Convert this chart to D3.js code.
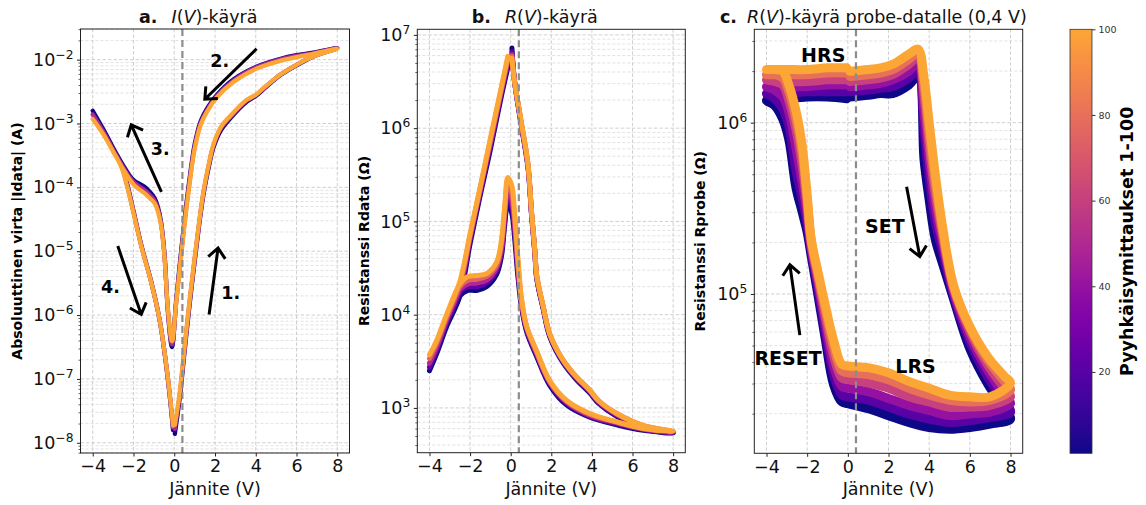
<!DOCTYPE html>
<html><head><meta charset="utf-8">
<script src="https://cdn.jsdelivr.net/npm/d3@7/dist/d3.min.js"></script>
<style>html,body{margin:0;padding:0;background:#fff;}svg{display:block;}</style>
</head><body>
<svg id="chart" width="1146" height="505" xmlns="http://www.w3.org/2000/svg"></svg>
<script>
// ================= DATA =================
const voltTicks = [-4, -2, 0, 2, 4, 6, 8];
const probeVoltage = 0.4;
const colorbarTicks = [20, 40, 60, 80, 100];

// ---- a. I(V): voltage path of a sweep (0->8, 8->0, 0->-4, -4->0) and log10 |I| per sweep
const aSweepIds = [1, 50, 100];
const aVolt = [0.03,0.27,0.51,0.76,1.09,1.42,1.75,1.9,2.3,2.72,3.55,4.0,4.36,5.18,6.0,6.82,8.0,
  6.82,6.0,5.18,4.04,2.9,2.07,1.6,1.3,1.0,0.75,0.5,0.3,0.1,-0.11,
  -0.31,-0.47,-0.64,-0.8,-0.96,-1.2,-1.46,-1.95,-2.2,-2.5,-3.0,-3.5,-4.0,
  -3.5,-3.0,-2.6,-2.3,-2.0,-1.62,-1.13,-0.72,-0.47,-0.23,-0.06];
const aLogI_1 = [-7.86,-7.3,-6.56,-5.82,-4.93,-4.14,-3.6,-3.4,-3.1,-2.93,-2.66,-2.57,-2.47,-2.25,-2.09,-1.95,-1.82,
  -1.89,-1.93,-1.99,-2.11,-2.31,-2.56,-2.77,-2.96,-3.33,-3.87,-4.52,-5.12,-5.75,-6.5,
  -5.95,-5.08,-4.56,-4.31,-4.17,-4.07,-3.99,-3.9,-3.81,-3.66,-3.38,-3.08,-2.8,
  -3.08,-3.38,-3.63,-3.96,-4.37,-4.9,-5.48,-6.07,-6.6,-7.24,-7.8];
const aLogI_50 = [-7.78,-7.25,-6.52,-5.78,-4.9,-4.11,-3.57,-3.37,-3.07,-2.91,-2.64,-2.56,-2.46,-2.24,-2.08,-1.95,-1.82,
  -1.9,-1.94,-2.0,-2.12,-2.33,-2.58,-2.8,-2.99,-3.37,-3.91,-4.56,-5.16,-5.78,-6.46,
  -5.93,-5.1,-4.58,-4.34,-4.21,-4.12,-4.04,-3.93,-3.84,-3.69,-3.41,-3.12,-2.86,
  -3.12,-3.41,-3.65,-3.98,-4.38,-4.91,-5.48,-6.07,-6.6,-7.22,-7.76];
const aLogI_100 = [-7.72,-7.21,-6.48,-5.75,-4.87,-4.09,-3.55,-3.35,-3.05,-2.89,-2.63,-2.55,-2.45,-2.24,-2.08,-1.95,-1.83,
  -1.91,-1.96,-2.02,-2.14,-2.35,-2.6,-2.82,-3.02,-3.4,-3.95,-4.6,-5.2,-5.8,-6.41,
  -5.91,-5.13,-4.61,-4.38,-4.25,-4.17,-4.09,-3.97,-3.87,-3.72,-3.44,-3.16,-2.93,
  -3.16,-3.44,-3.68,-4.0,-4.4,-4.92,-5.49,-6.07,-6.59,-7.21,-7.73];

// ---- b. R(V): log10 Rdata per sweep
const bSweepIds = [1, 25, 50, 75, 100];
const bVolt = [0.06,0.19,0.52,0.85,1.03,1.19,1.28,1.61,1.93,2.59,3.25,3.9,4.32,5.22,6.54,8.0,
  6.54,5.22,3.9,2.76,1.93,1.28,0.78,0.52,0.36,0.19,0.06,-0.14,
  -0.3,-0.46,-0.7,-1.19,-1.68,-2.1,-2.5,-3.16,-3.65,-4.0,
  -3.65,-3.16,-2.5,-2.0,-1.5,-1.03,-0.5,-0.14];
const bLogR_1 = [6.86,6.5,6.03,5.58,5.06,4.66,4.39,4.05,3.76,3.48,3.3,3.16,3.05,2.91,2.79,2.73,
  2.76,2.82,2.9,3.03,3.24,3.55,3.82,4.1,4.4,4.83,5.08,5.2,
  4.95,4.62,4.43,4.3,4.26,4.26,4.2,3.87,3.58,3.40,
  3.58,3.87,4.2,4.76,5.28,5.74,6.3,6.65];
const bLogR_25 = [6.82,6.5,6.04,5.59,5.07,4.67,4.4,4.06,3.77,3.49,3.31,3.17,3.06,2.92,2.8,2.73,
  2.77,2.83,2.91,3.05,3.26,3.57,3.84,4.12,4.45,4.9,5.15,5.27,
  5.0,4.66,4.47,4.34,4.3,4.3,4.24,3.91,3.62,3.44,
  3.62,3.91,4.25,4.8,5.31,5.78,6.34,6.69];
const bLogR_50 = [6.79,6.5,6.05,5.6,5.08,4.68,4.41,4.07,3.78,3.5,3.32,3.18,3.07,2.93,2.8,2.74,
  2.77,2.84,2.92,3.06,3.27,3.58,3.86,4.15,4.5,4.97,5.22,5.34,
  5.05,4.7,4.5,4.37,4.34,4.33,4.27,3.94,3.65,3.48,
  3.65,3.94,4.29,4.83,5.34,5.81,6.36,6.72];
const bLogR_75 = [6.77,6.5,6.06,5.61,5.09,4.69,4.42,4.08,3.79,3.51,3.33,3.19,3.08,2.94,2.81,2.75,
  2.78,2.85,2.93,3.07,3.28,3.6,3.87,4.17,4.54,5.03,5.3,5.41,
  5.1,4.75,4.53,4.41,4.38,4.37,4.3,3.97,3.69,3.53,
  3.69,3.97,4.33,4.85,5.36,5.84,6.38,6.75];
const bLogR_100 = [6.75,6.5,6.07,5.62,5.1,4.7,4.43,4.08,3.79,3.51,3.33,3.19,3.08,2.94,2.81,2.75,
  2.78,2.85,2.94,3.08,3.29,3.61,3.88,4.2,4.6,5.1,5.38,5.47,
  5.15,4.79,4.56,4.44,4.42,4.41,4.33,4.0,3.72,3.57,
  3.72,4.0,4.36,4.87,5.37,5.86,6.4,6.77];

// ---- c. R(V) probe at 0,4 V: log10 Rprobe per sweep
const cSweepIds = [1, 20, 40, 60, 80, 100];
const cVolt = [0.1,1.0,1.6,2.2,3.0,3.45, 3.75,4.0,4.3,4.65,5.2,6.0,6.9,7.7,8.0,
  7.0,6.0,5.0,4.0,3.0,2.0,1.0,0.0,-0.3,
  -0.7,-1.1,-1.45,-1.8,-2.0,-2.25,-2.55,-2.9,-3.2,-3.6,-4.0,
  -3.0,-2.0,-1.0,-0.05];
const cLogR_1 = [6.15,6.16,6.17,6.17,6.22,6.27, 5.78,5.55,5.32,5.18,4.97,4.68,4.47,4.33,4.27,
  4.24,4.22,4.21,4.22,4.25,4.29,4.33,4.36,4.37,
  4.47,4.73,4.98,5.22,5.36,5.48,5.62,5.90,6.02,6.10,6.13,
  6.14,6.15,6.15,6.14];
const cLogR_20 = [6.18,6.19,6.20,6.21,6.26,6.31, 5.95,5.68,5.42,5.25,4.99,4.72,4.51,4.37,4.31,
  4.28,4.26,4.25,4.27,4.30,4.34,4.38,4.40,4.41,
  4.53,4.77,5.02,5.25,5.41,5.56,5.72,5.98,6.08,6.14,6.17,
  6.17,6.18,6.18,6.18];
const cLogR_40 = [6.21,6.22,6.23,6.25,6.30,6.35, 6.05,5.78,5.50,5.30,5.01,4.75,4.55,4.41,4.36,
  4.31,4.30,4.29,4.32,4.35,4.39,4.43,4.45,4.46,
  4.58,4.82,5.05,5.27,5.46,5.65,5.85,6.06,6.15,6.19,6.21,
  6.21,6.21,6.22,6.22];
const cLogR_60 = [6.24,6.25,6.26,6.28,6.34,6.38, 6.15,5.86,5.58,5.34,5.03,4.78,4.58,4.45,4.40,
  4.35,4.34,4.34,4.37,4.40,4.45,4.48,4.50,4.51,
  4.64,4.86,5.08,5.29,5.51,5.75,5.96,6.13,6.22,6.24,6.25,
  6.24,6.24,6.25,6.25];
const cLogR_80 = [6.27,6.28,6.29,6.31,6.37,6.41, 6.21,5.93,5.64,5.37,5.04,4.80,4.61,4.49,4.44,
  4.38,4.37,4.38,4.41,4.45,4.50,4.53,4.54,4.55,
  4.69,4.90,5.10,5.31,5.55,5.82,6.02,6.18,6.26,6.28,6.28,
  6.28,6.28,6.29,6.29];
const cLogR_100 = [6.30,6.31,6.32,6.34,6.40,6.43, 6.26,6.0,5.70,5.40,5.05,4.81,4.63,4.52,4.48,
  4.40,4.40,4.41,4.45,4.49,4.54,4.57,4.58,4.59,
  4.73,4.93,5.12,5.32,5.58,5.87,6.07,6.22,6.30,6.31,6.31,
  6.31,6.31,6.32,6.32];

// annotations (data coordinates: volts, log10 value)
const aNotes = [{t:'1.', v:2.77, l:-5.744}, {t:'2.', v:2.23, l:-2.115}, {t:'3.', v:-0.69, l:-3.493}, {t:'4.', v:-3.13, l:-5.651}];
const aArrows = [{from:[1.71,-5.99], to:[2.15,-4.95]}, {from:[4.04,-1.83], to:[1.5,-2.62]},
                 {from:[-0.63,-4.07], to:[-2.11,-3.02]}, {from:[-2.77,-4.92], to:[-1.62,-5.99]}];
const cNotes = [{t:'HRS', v:-1.21, l:6.356}, {t:'SET', v:1.82, l:5.354}, {t:'RESET', v:-2.94, l:4.586}, {t:'LRS', v:3.33, l:4.537}];
const cArrows = [{from:[2.89,5.626], to:[3.54,5.218]}, {from:[-2.36,4.76], to:[-2.85,5.17]}];

// ================= DRAW =================
const svg = d3.select('#chart');
const FONT = "'DejaVu Sans', Verdana, sans-serif";
const colorOf = d3.scaleSequential(t => d3.interpolatePlasma(t * 0.8)).domain([1, 100]);
const voltDomain = [-4.6, 8.6];
const MINUS = '\u2212';
const fmtNum = v => v < 0 ? MINUS + (-v) : String(v);

const panels = [
  {key:'a', x0:80.5, x1:349.5, y0:29, y1:453, yLog:[-8.16,-1.52], volt:aVolt,
   sweeps:[aLogI_1, aLogI_50, aLogI_100], ids:aSweepIds, lw:4.3,
   ylabel:'Absoluuttinen virta |Idata| (A)', ylabelX:22,
   titleX:139, tLetter:'a.', tGap:14, tSym:'I', tRest:'-käyrä',
   notes:aNotes, arrows:aArrows, noteSize:17.5},
  {key:'b', x0:417.3, x1:685.3, y0:29.3, y1:452.7, yLog:[2.52,7.06], volt:bVolt,
   sweeps:[bLogR_1, bLogR_25, bLogR_50, bLogR_75, bLogR_100], ids:bSweepIds, lw:5,
   ylabel:'Resistanssi Rdata (\u03A9)', ylabelX:368.5,
   titleX:471.7, tLetter:'b.', tGap:14, tSym:'R', tRest:'-käyrä',
   notes:[], arrows:[], noteSize:17.5},
  {key:'c', x0:754.3, x1:1022.7, y0:29.3, y1:453.3, yLog:[4.07,6.545], volt:cVolt,
   sweeps:[cLogR_1, cLogR_20, cLogR_40, cLogR_60, cLogR_80, cLogR_100], ids:cSweepIds, lw:9,
   ylabel:'Resistanssi Rprobe (\u03A9)', ylabelX:704.5,
   titleX:720, tLetter:'c.', tGap:10, tSym:'R', tRest:'-käyrä probe-datalle (0,4 V)',
   notes:cNotes, arrows:cArrows, noteSize:19}
];

const defs = svg.append('defs');

panels.forEach(p => {
  const x = d3.scaleLinear().domain(voltDomain).range([p.x0, p.x1]);
  const y = d3.scaleLog().domain([10 ** p.yLog[0], 10 ** p.yLog[1]]).range([p.y1, p.y0]);
  const g = svg.append('g');
  const clipId = 'clip-' + p.key;
  defs.append('clipPath').attr('id', clipId).append('rect')
    .attr('x', p.x0).attr('y', p.y0).attr('width', p.x1 - p.x0).attr('height', p.y1 - p.y0);

  const lo = 10 ** p.yLog[0], hi = 10 ** p.yLog[1];
  const majors = [], minors = [];
  for (let e = Math.floor(p.yLog[0]); e <= Math.ceil(p.yLog[1]); e++) {
    const v = 10 ** e;
    if (v >= lo && v <= hi) majors.push(v);
    for (let m = 2; m <= 9; m++) { const mv = m * 10 ** e; if (mv >= lo && mv <= hi) minors.push(mv); }
  }

  const grid = g.append('g');
  grid.selectAll('.gmin').data(minors).join('line')
    .attr('x1', p.x0).attr('x2', p.x1).attr('y1', d => y(d)).attr('y2', d => y(d))
    .attr('stroke', '#d6d6d6').attr('stroke-width', 0.7).attr('stroke-dasharray', '3,2');
  grid.selectAll('.gmaj').data(majors).join('line')
    .attr('x1', p.x0).attr('x2', p.x1).attr('y1', d => y(d)).attr('y2', d => y(d))
    .attr('stroke', '#c4c4c4').attr('stroke-width', 0.8).attr('stroke-dasharray', '3.5,2');
  grid.selectAll('.gx').data(voltTicks).join('line')
    .attr('x1', d => x(d)).attr('x2', d => x(d)).attr('y1', p.y0).attr('y2', p.y1)
    .attr('stroke', '#c4c4c4').attr('stroke-width', 0.8).attr('stroke-dasharray', '3.5,2');

  const dataG = g.append('g').attr('clip-path', `url(#${clipId})`);
  const line = d3.line().x(d => x(d[0])).y(d => y(10 ** d[1])).curve(d3.curveCatmullRom.alpha(0.5));
  p.sweeps.forEach((vals, i) => {
    const pts = p.volt.map((v, j) => [v, vals[j]]);
    dataG.append('path').attr('d', line(pts)).attr('fill', 'none')
      .attr('stroke', colorOf(p.ids[i])).attr('stroke-width', p.lw)
      .attr('stroke-linejoin', 'round').attr('stroke-linecap', 'round');
  });

  g.append('line').attr('x1', x(probeVoltage)).attr('x2', x(probeVoltage)).attr('y1', p.y0).attr('y2', p.y1)
    .attr('stroke', '#8c8c8c').attr('stroke-width', 2.2).attr('stroke-dasharray', '7,4');

  p.arrows.forEach(a => {
    const xa = x(a.from[0]), ya = y(10 ** a.from[1]), xb = x(a.to[0]), yb = y(10 ** a.to[1]);
    const ang = Math.atan2(yb - ya, xb - xa), L = 13, spread = 0.72;
    const h1 = [xb - L * Math.cos(ang - spread), yb - L * Math.sin(ang - spread)];
    const h2 = [xb - L * Math.cos(ang + spread), yb - L * Math.sin(ang + spread)];
    g.append('path').attr('d', `M${xa},${ya}L${xb},${yb}M${h1[0]},${h1[1]}L${xb},${yb}L${h2[0]},${h2[1]}`)
      .attr('fill', 'none').attr('stroke', '#000').attr('stroke-width', 3).attr('stroke-linejoin', 'miter');
  });
  p.notes.forEach(n => {
    g.append('text').attr('x', x(n.v)).attr('y', y(10 ** n.l)).attr('text-anchor', 'middle')
      .attr('font-family', FONT).attr('font-weight', 'bold').attr('font-size', p.noteSize).attr('fill', '#000').text(n.t);
  });

  g.append('rect').attr('x', p.x0).attr('y', p.y0).attr('width', p.x1 - p.x0).attr('height', p.y1 - p.y0)
    .attr('fill', 'none').attr('stroke', '#222').attr('stroke-width', 1);

  const xa = g.append('g').attr('transform', `translate(0,${p.y1})`)
    .call(d3.axisBottom(x).tickValues(voltTicks).tickSize(3.5).tickPadding(3.5).tickFormat(fmtNum));
  xa.select('.domain').remove();
  xa.attr('font-family', FONT).attr('font-size', 17.5);
  xa.selectAll('line').attr('stroke', '#222');
  xa.selectAll('text').attr('fill', '#111');

  const ymin = g.append('g').attr('transform', `translate(${p.x0},0)`)
    .call(d3.axisLeft(y).tickValues(minors).tickSize(2).tickFormat(''));
  ymin.select('.domain').remove();
  ymin.selectAll('line').attr('stroke', '#222').attr('stroke-width', 0.7);
  ymin.selectAll('text').remove();
  const yax = g.append('g').attr('transform', `translate(${p.x0},0)`)
    .call(d3.axisLeft(y).tickValues(majors).tickSize(3.5).tickPadding(3.5).tickFormat(''));
  yax.select('.domain').remove();
  yax.attr('font-family', FONT).attr('font-size', 17.5);
  yax.selectAll('line').attr('stroke', '#222');
  yax.selectAll('.tick text').each(function(d) {
    const e = Math.round(Math.log10(d));
    const t = d3.select(this).attr('fill', '#111');
    t.text(null);
    t.append('tspan').text('10');
    t.append('tspan').attr('dy', -7).attr('font-size', 12.3).text(fmtNum(e));
  });

  g.append('text').attr('x', (p.x0 + p.x1) / 2).attr('y', 495).attr('text-anchor', 'middle')
    .attr('font-family', FONT).attr('font-size', 17.5).attr('fill', '#111').text('Jännite (V)');
  g.append('text').attr('transform', `translate(${p.ylabelX},${(p.y0 + p.y1) / 2}) rotate(-90)`)
    .attr('text-anchor', 'middle').attr('font-family', FONT).attr('font-weight', 'bold')
    .attr('font-size', 14).attr('fill', '#000').text(p.ylabel);

  const tt = g.append('text').attr('x', p.titleX).attr('y', 23).attr('font-family', FONT)
    .attr('font-size', 17.5).attr('fill', '#111');
  tt.append('tspan').attr('font-weight', 'bold').text(p.tLetter);
  tt.append('tspan').attr('dx', p.tGap).attr('font-style', 'italic').text(p.tSym);
  tt.append('tspan').text('(');
  tt.append('tspan').attr('font-style', 'italic').text('V');
  tt.append('tspan').text(')' + p.tRest);
});

// ================= COLORBAR =================
const cb = {x0:1070, x1:1092, y0:29.3, y1:453.3};
const grad = defs.append('linearGradient').attr('id', 'cbgrad')
  .attr('x1', 0).attr('y1', 1).attr('x2', 0).attr('y2', 0);
d3.range(0, 1.0001, 0.02).forEach(t => grad.append('stop').attr('offset', t).attr('stop-color', colorOf(1 + 99 * t)));
const cbScale = d3.scaleLinear().domain([1, 100]).range([cb.y1, cb.y0]);
svg.append('rect').attr('x', cb.x0).attr('y', cb.y0).attr('width', cb.x1 - cb.x0).attr('height', cb.y1 - cb.y0)
  .attr('fill', 'url(#cbgrad)').attr('stroke', '#333').attr('stroke-width', 0.8);
const cba = svg.append('g').attr('transform', `translate(${cb.x1},0)`)
  .call(d3.axisRight(cbScale).tickValues(colorbarTicks).tickSize(3.5).tickPadding(3));
cba.select('.domain').remove();
cba.attr('font-family', FONT).attr('font-size', 9.5);
cba.selectAll('line').attr('stroke', '#333');
cba.selectAll('text').attr('fill', '#333');
svg.append('text').attr('transform', `translate(1133,${(cb.y0 + cb.y1) / 2}) rotate(-90)`)
  .attr('text-anchor', 'middle').attr('font-family', FONT).attr('font-weight', 'bold')
  .attr('font-size', 17.5).attr('fill', '#000').text('Pyyhkäisymittaukset 1-100');
</script>
</body></html>
